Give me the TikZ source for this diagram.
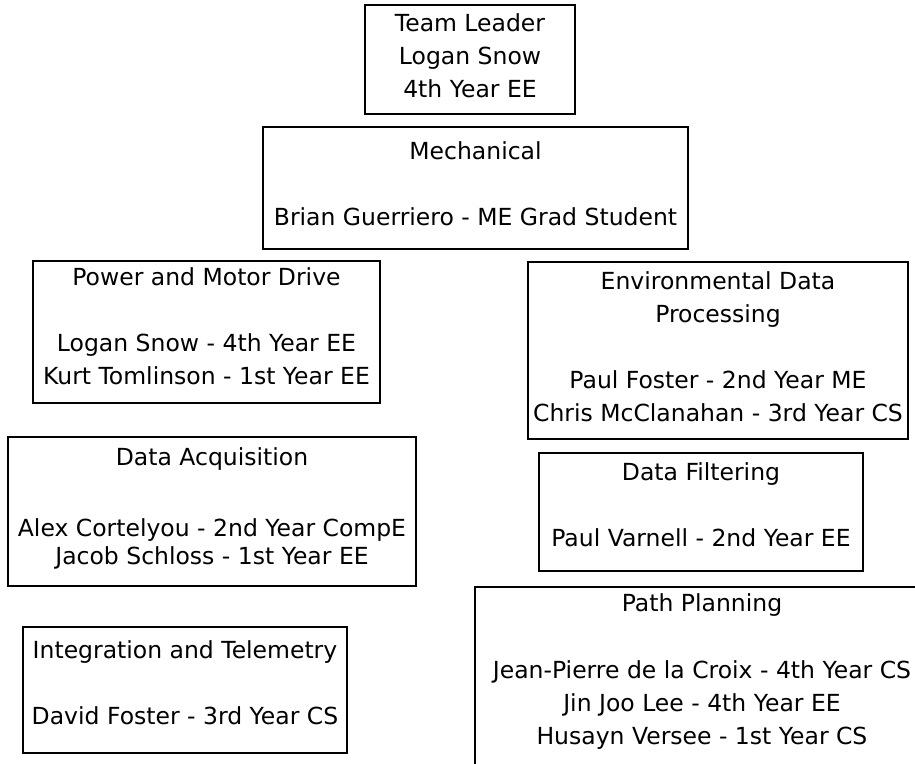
\documentclass[tikz,border=0pt]{standalone}
\usepackage{fontspec}
\setmainfont{DejaVu Sans}
\begin{document}
\begin{tikzpicture}[x=1pt,y=-1pt,
  box/.style={draw=black, line width=2pt, inner sep=0pt},
  txt/.style={font=\fontsize{23.5}{33}\selectfont, align=center, inner sep=0pt, text=black}]
\useasboundingbox (0,0) rectangle (915,763);
\fill[white] (0,0) rectangle (915,763);
\clip (0,0) rectangle (915,763);
\node[box, minimum width=210pt, minimum height=109pt,
  label={[txt,yshift=3.5pt]center:{Team Leader\\Logan Snow\\4th Year EE}}] (tl) at (470,59.5) {};
\node[box, minimum width=425pt, minimum height=122pt,
  label={[txt,yshift=4.5pt]center:{Mechanical\\[33pt]Brian Guerriero - ME Grad Student}}] (mech) at (475.5,188) {};
\node[box, minimum width=347pt, minimum height=142pt,
  label={[txt,yshift=6pt]center:{Power and Motor Drive\\[33pt]Logan Snow - 4th Year EE\\Kurt Tomlinson - 1st Year EE}}] (power) at (206.5,332) {};
\node[box, minimum width=380pt, minimum height=177pt,
  label={[txt,yshift=4pt]center:{Environmental Data\\Processing\\[33pt]Paul Foster - 2nd Year ME\\Chris McClanahan - 3rd Year CS}}] (env) at (718,350.5) {};
\node[box, minimum width=408pt, minimum height=149pt,
  label={[txt,yshift=3.2pt]center:{Data Acquisition\\[38pt]Alex Cortelyou - 2nd Year CompE\\[-5pt]Jacob Schloss - 1st Year EE}}] (daq) at (212,511.5) {};
\node[box, minimum width=324pt, minimum height=118pt,
  label={[txt,yshift=7.5pt]center:{Data Filtering\\[33pt]Paul Varnell - 2nd Year EE}}] (filt) at (701,512) {};
\node[box, minimum width=324pt, minimum height=126pt,
  label={[txt,yshift=7.5pt]center:{Integration and Telemetry\\[33pt]David Foster - 3rd Year CS}}] (integ) at (185,690) {};
\node[box, minimum width=454pt, minimum height=213pt,
  label={[txt,yshift=21.7pt]center:{Path Planning\\[34pt]Jean-Pierre de la Croix - 4th Year CS\\Jin Joo Lee - 4th Year EE\\Husayn Versee - 1st Year CS}}] (path) at (702,693.5) {};
\end{tikzpicture}
\end{document}
